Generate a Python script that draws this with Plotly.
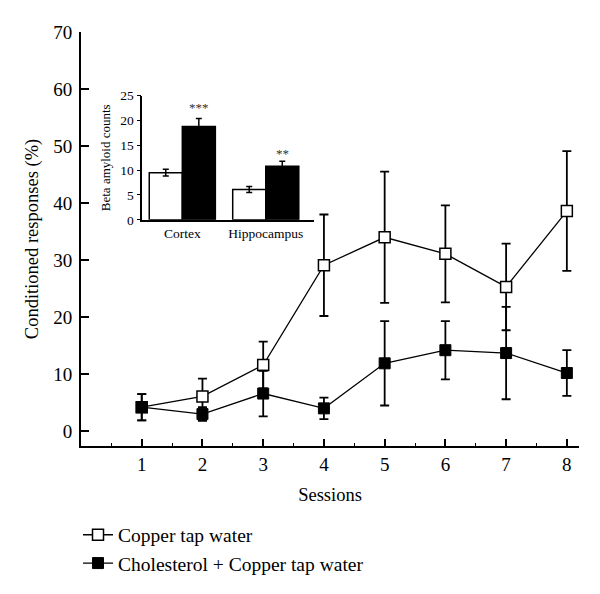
import plotly.graph_objects as go

# ---- main chart data ----
sessions = [1, 2, 3, 4, 5, 6, 7, 8]
copper_mean = [4.2, 6.1, 11.6, 29.1, 34.0, 31.1, 25.3, 38.6]
copper_err = [2.3, 3.1, 4.1, 8.9, 11.5, 8.5, 7.6, 10.5]
chol_mean = [4.2, 3.0, 6.6, 4.0, 11.9, 14.2, 13.7, 10.2]
chol_err = [2.3, 1.2, 4.0, 1.9, 7.4, 5.1, 8.1, 4.0]

# ---- inset data ----
regions = ["Cortex", "Hippocampus"]
inset_copper = [9.5, 6.1]
inset_copper_err = [0.7, 0.6]
inset_chol = [18.8, 10.8]
inset_chol_err = [1.6, 1.0]
significance = ["***", "**"]

FONT = "Liberation Serif"

fig = go.Figure()

fig.add_trace(go.Scatter(
    x=sessions, y=copper_mean, name="Copper tap water",
    mode="lines+markers",
    line=dict(color="black", width=1.3),
    marker=dict(symbol="square", size=11, color="white",
                line=dict(color="black", width=1.5)),
    error_y=dict(type="data", array=copper_err, visible=True,
                 color="black", thickness=1.8, width=4.5),
    xaxis="x", yaxis="y",
))
fig.add_trace(go.Scatter(
    x=sessions, y=chol_mean, name="Cholesterol + Copper tap water",
    mode="lines+markers",
    line=dict(color="black", width=1.3),
    marker=dict(symbol="square", size=11, color="black",
                line=dict(color="black", width=1)),
    error_y=dict(type="data", array=chol_err, visible=True,
                 color="black", thickness=1.8, width=4.5),
    xaxis="x", yaxis="y",
))

# inset bars
fig.add_trace(go.Bar(
    x=regions, y=inset_copper, showlegend=False,
    marker=dict(color="white", line=dict(color="black", width=1.5)),
    error_y=dict(type="data", array=inset_copper_err, visible=True,
                 color="black", thickness=1.5, width=3),
    xaxis="x2", yaxis="y2",
))
fig.add_trace(go.Bar(
    x=regions, y=inset_chol, showlegend=False,
    marker=dict(color="black", line=dict(color="black", width=1.5)),
    error_y=dict(type="data", array=inset_chol_err, visible=True,
                 color="black", thickness=1.5, width=3),
    xaxis="x2", yaxis="y2",
))

sig_offsets = [2.3, 1.6]
for i, (r, s) in enumerate(zip(regions, significance)):
    fig.add_annotation(
        x=i, y=inset_chol[i] + inset_chol_err[i] + sig_offsets[i],
        xref="x2", yref="y2", text=s, showarrow=False,
        xshift=16.5, yanchor="middle",
        font=dict(family=FONT, size=13, color="#333"),
    )

fig.update_layout(
    width=600, height=594,
    paper_bgcolor="white", plot_bgcolor="white",
    margin=dict(l=73, r=29, t=24, b=156),
    font=dict(family=FONT, color="black", size=19),
    barmode="group", bargap=0.208, bargroupgap=0,
    showlegend=True,
    legend=dict(
        x=-0.006, y=-0.168, xanchor="left", yanchor="top",
        font=dict(family=FONT, size=19.5, color="black"),
        bgcolor="rgba(0,0,0,0)", borderwidth=0,
    ),
    xaxis=dict(
        domain=[0, 1], range=[0, 8.2],
        tickmode="array", tickvals=sessions,
        ticks="inside", ticklen=7, tickwidth=1.5, tickcolor="black",
        minor=dict(ticks="inside", ticklen=3, dtick=0.5, tick0=0,
                   tickcolor="black", tickwidth=1),
        showline=True, linecolor="black", linewidth=1.8,
        showgrid=False, zeroline=False,
        tickfont=dict(family=FONT, size=19),
        title=dict(text="Sessions", font=dict(family=FONT, size=18.5), standoff=14),
    ),
    yaxis=dict(
        domain=[0, 1], range=[-2.6, 70],
        tickmode="array", tickvals=[0, 10, 20, 30, 40, 50, 60, 70],
        ticks="inside", ticklen=8, tickwidth=1.5, tickcolor="black",
        showline=True, linecolor="black", linewidth=1.8,
        showgrid=False, zeroline=False,
        tickfont=dict(family=FONT, size=19),
        ticklabelstandoff=3,
        title=dict(text="Conditioned responses (%)",
                   font=dict(family=FONT, size=18.5), standoff=10),
    ),
    xaxis2=dict(
        domain=[0.123, 0.468], range=[-0.48, 1.579],
        anchor="y2", type="category",
        ticks="", showline=True, linecolor="black", linewidth=1.5,
        showgrid=False, zeroline=False,
        tickfont=dict(family=FONT, size=13.5),
    ),
    yaxis2=dict(
        domain=[0.5464, 0.8461], range=[0, 25],
        anchor="x2", tickmode="array", tickvals=[0, 5, 10, 15, 20, 25],
        ticks="outside", ticklen=4, tickwidth=1.2, tickcolor="black",
        showline=True, linecolor="black", linewidth=1.5,
        showgrid=False, zeroline=False,
        tickfont=dict(family=FONT, size=13.5),
        title=dict(text="Beta amyloid counts",
                   font=dict(family=FONT, size=13), standoff=7),
    ),
)

fig.write_html("out.html")
